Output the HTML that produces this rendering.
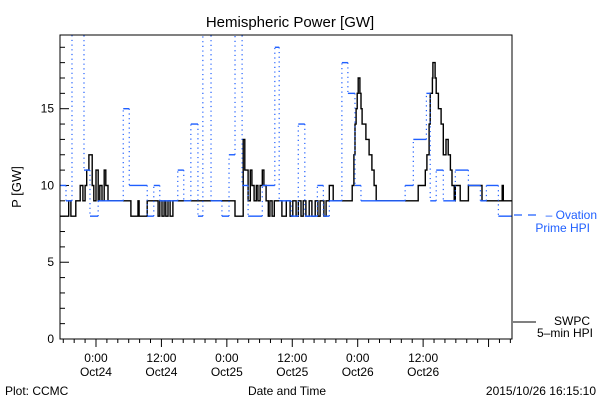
<!DOCTYPE html>
<html><head><meta charset="utf-8"><style>
body{margin:0;background:#fff;}
svg text{font-family:"Liberation Sans",sans-serif;fill:#000;}
</style></head><body>
<svg id="chart" width="600" height="400" viewBox="0 0 600 400" xmlns="http://www.w3.org/2000/svg">
<defs><clipPath id="pc"><rect x="60" y="35" width="452" height="304"/></clipPath></defs>
<text x="290" y="27" font-size="15" text-anchor="middle">Hemispheric Power [GW]</text>
<text x="0" y="0" font-size="13" text-anchor="middle" transform="translate(21,187) rotate(-90)">P [GW]</text>
<g id="axes"></g>
<g id="series" clip-path="url(#pc)"></g>
<rect x="60" y="35" width="452" height="304" fill="none" stroke="#000" stroke-width="1"/>
<line x1="514" y1="215" x2="540" y2="215" stroke="#1f5fff" stroke-width="1.2" stroke-dasharray="8,6"/>
<text x="597" y="219" font-size="12" text-anchor="end" fill="#1f5fff" style="fill:#1f5fff">– Ovation</text>
<text x="590" y="232" font-size="12" text-anchor="end" style="fill:#1f5fff">Prime HPI</text>
<line x1="513" y1="322" x2="536" y2="322" stroke="#000" stroke-width="1"/>
<text x="590" y="325" font-size="12" text-anchor="end">SWPC</text>
<text x="593" y="337" font-size="12" text-anchor="end">5–min HPI</text>
<text x="287" y="395" font-size="12" text-anchor="middle">Date and Time</text>
<text x="5" y="395" font-size="12">Plot: CCMC</text>
<text x="596" y="395" font-size="12" text-anchor="end">2015/10/26 16:15:10</text>
</svg>
<script>
// hours relative to Oct24 0:00
const xDomain=[-6.6,76.3];
const yDomain=[0,19.8];
const yTickValues=[0,5,10,15];
const xTickHours=[0,12,24,36,48,60];
const xTickTimes=["0:00","12:00","0:00","12:00","0:00","12:00"];
const xTickDates=["Oct24","Oct24","Oct25","Oct25","Oct26","Oct26"];
const blueTimes=[-6.6,-5.5,-4.4,-2.2,-1.1,0.4,5.0,6.1,9.4,10.6,11.7,15.0,16.1,17.4,18.7,19.6,21.1,23.1,24.4,25.5,26.8,27.9,30.5,32.8,33.6,35.8,37.1,38.3,40.6,41.7,42.8,45.1,46.2,47.5,48.6,56.7,58.2,60.6,61.3,62.4,63.7,65.9,68.3,70.5,71.6,73.8];
const blueValues=[10,9,21,11,8,9,15,10,8,10,9,11,9,14,8,21,9,8,12,21,10,8,10,19,9,8,14,8,10,8,9,18,16,10,9,10,13,16,9,11,9,11,10,9,10,8];
const blackTimes=[-6.6,-5.0,-4.6,-3.7,-2.9,-2.4,-2.0,-1.7,-1.3,-0.7,-0.4,0,0.4,0.7,1.1,1.5,1.8,2.2,6.4,7.7,7.9,9.4,11.4,11.7,12.1,12.5,12.8,13.2,13.6,14.1,25.5,27.0,27.3,27.9,28.3,28.6,29.0,29.4,29.7,30.1,30.5,30.8,31.2,31.6,31.9,32.3,32.7,34.1,34.9,35.6,36.1,36.7,37.1,37.6,38.0,38.5,39.1,39.6,40.2,40.7,41.1,41.8,42.2,42.8,43.5,47.0,47.3,47.5,47.7,47.9,48.1,48.4,48.6,48.8,49.5,50.1,50.6,51.0,51.4,59.1,60.4,60.7,61.1,61.3,61.7,61.8,62.2,62.4,62.8,63.3,63.7,64.2,64.6,65.0,65.3,65.7,65.9,66.8,68.3,70.8,74.5,74.7];
const blackValues=[8,9,8,9,10,9,10,11,12,10,9,11,9,10,9,11,10,9,8,9,8,9,8,9,8,9,8,9,8,9,8,13,11,9,11,10,9,10,9,10,11,10,9,8,9,8,9,8,9,8,9,8,9,8,9,8,9,8,9,8,9,8,9,10,9,10,12,14,15,16,17,16,15,14,13,12,11,10,9,10,11,12,14,16,17,18,17,16,15,14,12,13,12,11,10,9,10,9,10,9,10,9];

const L=60,R=512,T=35,B=339;
const sx=h=>L+(h-xDomain[0])/(xDomain[1]-xDomain[0])*(R-L);
const sy=v=>B-(v-yDomain[0])/(yDomain[1]-yDomain[0])*(B-T);
const NS="http://www.w3.org/2000/svg";
const axes=document.getElementById('axes'), series=document.getElementById('series');
function mk(tag,attrs,parent){const e=document.createElementNS(NS,tag);for(const k in attrs)e.setAttribute(k,attrs[k]);parent.appendChild(e);return e;}

// y ticks
for(let v=0;v<=19;v++){
  const major=v%5===0;
  const t=mk('line',{x1:L,x2:L+(major?9:5),y1:sy(v),y2:sy(v),stroke:'#000'},axes);
  
  
}
yTickValues.forEach(v=>{
  const t=mk('text',{x:L-6,y:sy(v)+4,'font-size':12,'text-anchor':'end'},axes);
  t.textContent=String(v);
  
  
});
// x ticks
for(let h=-6;h<=76;h+=2){
  const major=h%12===0;
  const t=mk('line',{x1:sx(h),x2:sx(h),y1:B,y2:B+(major?8:4),stroke:'#000'},axes);
  
  
}
xTickHours.forEach((h,i)=>{
  const a=mk('text',{x:sx(h),y:362,'font-size':12,'text-anchor':'middle'},axes);
  a.textContent=xTickTimes[i];
  
  
  const b=mk('text',{x:sx(h),y:376,'font-size':12,'text-anchor':'middle'},axes);
  b.textContent=xTickDates[i];
  
  
});
// black series (solid step)
let d='';
blackTimes.forEach((t,i)=>{
  const x=sx(t), y=sy(blackValues[i]);
  const xe=i+1<blackTimes.length?sx(blackTimes[i+1]):R;
  d+=(i===0?'M':'L')+x.toFixed(1)+' '+y.toFixed(1)+' L'+xe.toFixed(1)+' '+y.toFixed(1)+' ';
});
const bp=mk('path',{d:d,fill:'none',stroke:'#000','stroke-width':1.4},series);


// blue series: solid horizontals, dotted verticals
blueTimes.forEach((t,i)=>{
  const x=sx(t), y=sy(blueValues[i]);
  const xe=i+1<blueTimes.length?sx(blueTimes[i+1]):R;
  const h=mk('line',{x1:x,x2:xe,y1:y,y2:y,stroke:'#1f5fff','stroke-width':1.4},series);
  
  
  if(i+1<blueTimes.length){
    const v=mk('line',{x1:xe,x2:xe,y1:y,y2:sy(blueValues[i+1]),stroke:'#1f5fff','stroke-width':1.2,'stroke-dasharray':'1.2,3.5'},series);
    
    
  }
});
</script>
</body></html>
